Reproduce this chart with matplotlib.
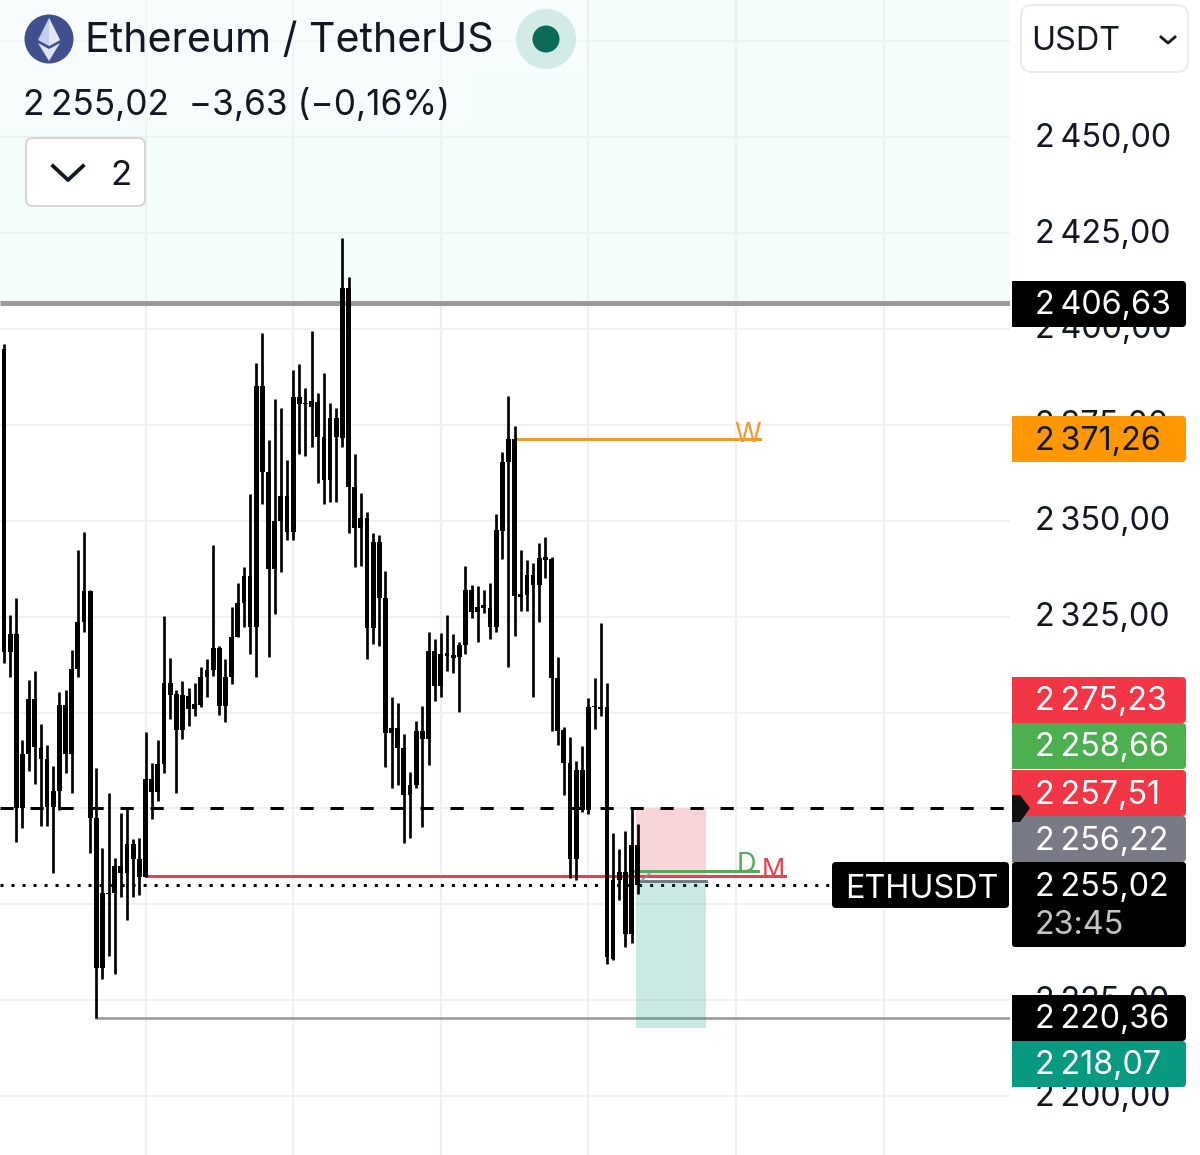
import numpy as np
import matplotlib
matplotlib.use("Agg")
import matplotlib.pyplot as plt
from matplotlib.patches import Circle, FancyBboxPatch, Polygon, Rectangle
from matplotlib.transforms import blended_transform_factory

plt.rcParams['font.family'] = ['Inter', 'DejaVu Sans']

# 1: Candles, all drawn black. One value per candle
highs = [2396.1, 2325.4, 2329.9, 2292.9, 2308.5, 2310.8, 2297.0, 2291.6, 2286.1, 2305.4,
         2305.9, 2316.3, 2342.4, 2347.1, 2332.0, 2285.6, 2264.7, 2279.0, 2262.1, 2273.8,
         2275.1, 2267.1, 2267.3, 2294.9, 2286.9, 2292.9, 2325.2, 2314.2, 2305.9, 2308.2,
         2306.4, 2307.7, 2311.9, 2314.0, 2343.7, 2317.4, 2314.0, 2327.5, 2333.8, 2337.9,
         2357.0, 2391.1, 2398.9, 2371.0, 2381.7, 2379.4, 2365.8, 2389.3, 2390.8, 2384.6,
         2399.4, 2383.3, 2388.5, 2380.7, 2379.4, 2423.7, 2413.5, 2367.4, 2357.2, 2352.3,
         2346.8, 2346.3, 2336.9, 2304.1, 2302.5, 2294.4, 2284.5, 2297.8, 2301.7, 2321.0,
         2319.2, 2320.7, 2325.4, 2320.5, 2318.4, 2338.2, 2333.2, 2333.0, 2331.9, 2333.8,
         2351.8, 2367.9, 2382.5, 2374.7, 2342.4, 2339.8, 2339.0, 2344.2, 2345.8, 2340.5,
         2314.5, 2296.2, 2293.6, 2287.4, 2291.3, 2303.8, 2309.0, 2323.3, 2307.7, 2268.6,
         2264.4, 2269.1, 2275.1, 2271.0]
body_tops = [2394.8, 2320.5, 2320.5, 2289.2, 2303.5, 2303.5, 2290.8, 2287.9, 2279.6, 2302.0,
             2302.0, 2311.4, 2323.6, 2331.7, 2331.7, 2272.5, 2253.0, 2253.0, 2260.0, 2260.0,
             2265.8, 2265.8, 2261.8, 2282.7, 2282.7, 2286.6, 2307.7, 2307.7, 2304.8, 2304.6,
             2304.3, 2302.2, 2309.3, 2311.1, 2316.8, 2316.8, 2309.3, 2319.7, 2328.6, 2335.6,
             2335.6, 2385.1, 2385.1, 2362.7, 2349.9, 2356.4, 2356.4, 2382.2, 2382.2, 2380.7,
             2381.2, 2380.9, 2371.8, 2376.8, 2376.8, 2410.6, 2410.6, 2358.8, 2350.7, 2350.7,
             2344.5, 2344.5, 2329.9, 2296.0, 2296.0, 2290.8, 2281.1, 2295.2, 2295.2, 2316.0,
             2316.0, 2315.3, 2315.5, 2315.0, 2317.6, 2331.9, 2331.9, 2327.5, 2328.0, 2327.3,
             2347.6, 2365.3, 2371.3, 2371.3, 2330.9, 2335.9, 2335.9, 2340.3, 2340.5, 2340.0,
             2309.0, 2295.5, 2286.9, 2285.0, 2285.0, 2301.5, 2301.7, 2301.5, 2301.5, 2256.4,
             2258.5, 2258.5, 2265.5, 2265.5]
body_bots = [2315.8, 2315.8, 2275.1, 2275.1, 2289.2, 2291.0, 2287.9, 2275.4, 2275.4, 2279.6,
             2289.2, 2289.2, 2311.4, 2323.6, 2272.5, 2233.4, 2233.4, 2252.7, 2253.0, 2258.2,
             2258.2, 2261.8, 2257.2, 2257.2, 2279.3, 2279.3, 2286.6, 2304.6, 2295.5, 2295.5,
             2300.9, 2300.9, 2302.0, 2309.3, 2311.1, 2301.7, 2301.7, 2309.3, 2319.7, 2328.6,
             2322.3, 2322.3, 2362.7, 2337.4, 2337.4, 2349.9, 2347.1, 2347.1, 2380.4, 2380.4,
             2379.6, 2371.8, 2360.6, 2360.6, 2371.8, 2371.6, 2358.8, 2348.1, 2348.1, 2322.0,
             2322.0, 2329.9, 2294.7, 2294.7, 2290.8, 2278.5, 2278.5, 2281.1, 2293.1, 2293.1,
             2306.9, 2306.9, 2314.7, 2314.2, 2314.5, 2317.6, 2326.2, 2326.2, 2327.3, 2322.3,
             2322.3, 2347.3, 2365.3, 2330.4, 2330.1, 2330.6, 2333.2, 2333.2, 2339.8, 2309.0,
             2295.2, 2286.9, 2261.8, 2261.8, 2274.6, 2274.6, 2301.5, 2300.9, 2236.3, 2235.8,
             2256.4, 2242.3, 2242.3, 2255.1]
lows = [2312.9, 2309.3, 2266.3, 2269.9, 2284.8, 2281.4, 2270.4, 2270.4, 2258.2, 2274.6,
        2284.3, 2279.0, 2309.3, 2321.0, 2263.4, 2220.4, 2230.6, 2236.6, 2231.9, 2251.9,
        2245.9, 2251.9, 2252.5, 2257.2, 2272.3, 2277.0, 2284.3, 2298.3, 2279.0, 2293.1,
        2296.5, 2299.1, 2301.5, 2304.1, 2309.5, 2299.4, 2297.5, 2307.4, 2319.7, 2322.3,
        2315.3, 2309.3, 2354.4, 2314.5, 2325.7, 2336.6, 2345.0, 2345.0, 2367.4, 2366.9,
        2369.2, 2359.8, 2354.4, 2354.9, 2354.9, 2369.2, 2346.8, 2337.9, 2338.2, 2314.0,
        2317.9, 2317.4, 2285.8, 2280.3, 2281.1, 2266.0, 2267.3, 2280.3, 2270.2, 2286.3,
        2303.0, 2304.1, 2310.8, 2310.3, 2300.2, 2315.3, 2324.6, 2318.4, 2326.0, 2319.2,
        2321.0, 2340.0, 2311.9, 2320.0, 2326.5, 2326.5, 2304.1, 2323.6, 2335.1, 2295.2,
        2291.6, 2278.5, 2256.9, 2256.4, 2274.1, 2273.6, 2295.7, 2299.1, 2234.5, 2235.5,
        2251.2, 2238.9, 2240.0, 2252.7]

# 2: Price levels and axis text
price_ticks = [2450, 2425, 2400, 2375, 2350, 2325, 2225, 2200]
tick_labels = ['2\u2009450,00', '2\u2009425,00', '2\u2009400,00', '2\u2009375,00',
               '2\u2009350,00', '2\u2009325,00', '2\u2009225,00', '2\u2009200,00']
grid_prices = [2475, 2450, 2425, 2400, 2375, 2350, 2325, 2300, 2275, 2250, 2225, 2200]
grid_candles = [23, 47, 71, 95, 119, 143]

upper_level = 2406.63
weekly_level = 2371.26
stop_level = 2275.23
daily_level = 2258.66
monthly_level = 2257.51
entry_level = 2256.22
last_price = 2255.02
low_level = 2220.36
target_level = 2218.07

badge_texts = ['2\u2009406,63', '2\u2009371,26', '2\u2009275,23', '2\u2009258,66', '2\u2009257,51',
               '2\u2009256,22', '2\u2009220,36', '2\u2009218,07']
badge_colors = ['#000000', '#ff9800', '#f23645', '#4caf50', '#f23645', '#787b86', '#000000', '#089981']
badge_text_colors = ['white', '#131722', 'white', 'white', 'white', 'white', 'white', 'white']
badge_tops = [281, 416, 677, 723, 770, 816, 995, 1041]

# 3: Figure. ax is the chart in candle/price units, ui is the page in pixels
fig = plt.figure(figsize=(12, 11.55), dpi=100)
ax = fig.add_axes([0, 0, 1, 1])
ax.set_xlim(-0.65, 194.4)
ax.set_ylim(2184.7, 2485.7)
ax.axis('off')
ui = fig.add_axes([0, 0, 1, 1], zorder=5)
ui.set_xlim(0, 1200)
ui.set_ylim(1155, 0)
ui.axis('off')
ui.patch.set_alpha(0)

chart_right = 163.5
left = -0.65
x = np.arange(len(highs))
px = 0.72  # points per pixel

# top tinted zone and grid
ax.add_patch(Rectangle((left, upper_level), chart_right - left, 2485.7 - upper_level,
                       color='#f3fdfc', lw=0, zorder=0))
ax.hlines(grid_prices, left, chart_right, color='#eff1f3', lw=2 * px, zorder=1)
ax.vlines(grid_candles, 2184.7, 2485.7, color='#eef0f2', lw=2.2 * px, zorder=1)

# position tool
ax.add_patch(Rectangle((102.8, monthly_level), 11.3, stop_level - monthly_level,
                       color='#f9d5d9', lw=0, zorder=2))
ax.add_patch(Rectangle((102.8, target_level - 0.2), 11.3, entry_level - target_level + 0.2,
                       color='#089981', alpha=0.21, lw=0, zorder=4))

# level lines
ax.hlines(upper_level, left, chart_right, color='#9a9a9a', lw=5 * px, zorder=3)
ax.plot([83, 122.9], [weekly_level] * 2, color='#f29a2e', lw=3 * px, zorder=3)
ax.plot([23, 127], [monthly_level] * 2, color='#e5414f', lw=3 * px, zorder=3)
ax.plot([102, 122.6], [daily_level] * 2, color='#57a85c', lw=3 * px, zorder=3.2)
ax.plot([102.9, 114.1], [entry_level] * 2, color='#787b86', lw=3 * px, zorder=3.2)
ax.plot([103.6, 105.4], [entry_level, daily_level], color='#8a8d96', lw=1.5 * px, zorder=3.2)
ax.plot([15, chart_right], [low_level] * 2, color='#9a9a9a', lw=2.6 * px, zorder=3)
ax.plot([left, chart_right], [stop_level] * 2, color='black', lw=3 * px, zorder=3,
        dashes=(4.4, 5.6), dash_capstyle='butt')
ax.plot([left, 134.6], [last_price] * 2, color='black', lw=3 * px, zorder=3,
        dashes=(1, 2.67), dash_capstyle='butt')

# candles
ax.vlines(x, lows, highs, color='black', lw=2.7 * px, zorder=6)
ax.bar(x, np.array(body_tops) - np.array(body_bots), bottom=body_bots, width=0.78,
       color='black', lw=0, zorder=6)

ax.text(120.8, weekly_level - 0.7, 'W', color='#f29a2e', fontsize=19.5,
        ha='center', va='baseline', zorder=7)
ax.text(120.6, daily_level - 0.2, 'D', color='#57a85c', fontsize=19.5,
        ha='center', va='baseline', zorder=7)
ax.text(125, monthly_level - 0.2, 'M', color='#e5414f', fontsize=18.5,
        ha='center', va='baseline', zorder=7)

# 4: Right hand price scale
ui.add_patch(Rectangle((1010, 0), 190, 1155, color='white', lw=0, zorder=1))
price_trans = blended_transform_factory(ui.transData, ax.transData)
for tick, label in zip(price_ticks, tick_labels):
    ui.text(1035, tick - 0.3, label, transform=price_trans, color='#131722', fontsize=23.3,
            va='center', zorder=2)

for text, color, text_color, top in zip(badge_texts, badge_colors, badge_text_colors, badge_tops):
    ui.add_patch(Rectangle((1012, top), 171, 46, color=color, lw=0, zorder=3))
    ui.add_patch(FancyBboxPatch((1175, top), 11, 46, boxstyle='round,pad=0,rounding_size=4',
                                color=color, lw=0, zorder=3))
    ui.text(1035, top + 25, text, color=text_color, fontsize=23.3, va='center', zorder=4)

ui.add_patch(FancyBboxPatch((1012, 862), 174, 85, boxstyle='round,pad=0,rounding_size=3',
                            color='black', lw=0, zorder=3))
ui.text(1035, 887, '2\u2009255,02', color='white', fontsize=23.3, va='center', zorder=4)
ui.text(1035, 925, '23:45', color='#c4c4c4', fontsize=23.3, va='center', zorder=4)
ui.add_patch(FancyBboxPatch((832, 862), 177, 46, boxstyle='round,pad=0,rounding_size=4',
                            color='black', lw=0, zorder=3))
ui.text(845, 889, 'ETHUSDT', color='white', fontsize=23.3, va='center', zorder=4)
ui.add_patch(Polygon([(1012, 795), (1020, 795), (1030, 808), (1020, 822), (1012, 822)],
                     color='#111111', lw=0, zorder=5))

ui.add_patch(FancyBboxPatch((1021, 5), 167, 67, boxstyle='round,pad=0,rounding_size=11',
                            fc='white', ec='#ececec', lw=2 * px, zorder=2))
ui.text(1031, 41, 'USDT', color='#131722', fontsize=23.3, va='center', zorder=4)
ui.plot([1161, 1168, 1175], [37, 43, 37], color='#131722', lw=2.8 * px, zorder=4)

# 5: Header
ui.add_patch(Rectangle((0, 0), 586, 72, color='white', alpha=0.4, lw=0, zorder=1))
ui.add_patch(Rectangle((0, 72), 470, 54, color='white', alpha=0.4, lw=0, zorder=1))

ui.add_patch(Circle((49, 39), 24.5, color='#40508f', lw=0, zorder=2))
ui.add_patch(Polygon([(49, 18), (38, 40), (49, 46), (60, 40)], color='#c3cdf0', lw=0, zorder=3))
ui.add_patch(Polygon([(49, 18), (49, 46), (60, 40)], color='#e2e7fa', lw=0, zorder=3))
ui.add_patch(Polygon([(38, 43), (49, 61), (60, 43), (49, 49)], color='#dde3f8', lw=0, zorder=3))

ui.text(85, 41, 'Ethereum / TetherUS', color='#131722', fontsize=29.6, va='center', zorder=4)
ui.add_patch(Circle((546, 39), 30, color='#d3ebe7', lw=0, zorder=2))
ui.add_patch(Circle((546, 39), 13.5, color='#0b6b57', lw=0, zorder=3))
ui.text(23, 105, '2\u2009255,02  \u22123,63 (\u22120,16%)', color='#131722', fontsize=25.4,
        va='center', zorder=4)

ui.add_patch(FancyBboxPatch((26, 138), 119, 68, boxstyle='round,pad=0,rounding_size=7',
                            fc='white', ec='#d6d6d6', lw=2 * px, zorder=2))
ui.plot([53, 68, 83], [166, 180, 166], color='#131722', lw=3.8 * px, zorder=4)
ui.text(110, 176, '2', color='#131722', fontsize=25, va='center', zorder=4)

fig.savefig('out.png', dpi=100)
